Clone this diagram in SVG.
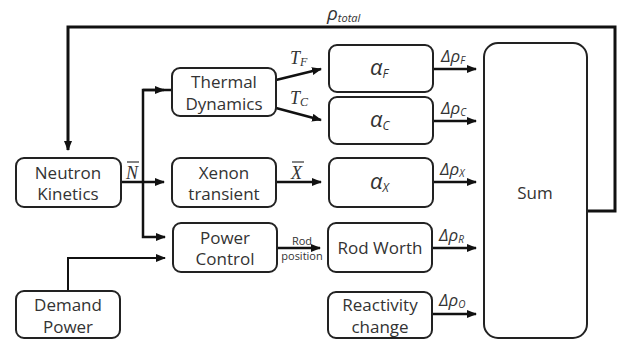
<svg xmlns="http://www.w3.org/2000/svg" width="622" height="340" viewBox="0 0 622 340">
<style>
.box{fill:#fff;stroke:#222;stroke-width:2}
.t{font-family:"Open Sans","Noto Sans",sans-serif;font-size:17px;fill:#333;text-anchor:middle}
.g{font-family:"Open Sans","Noto Sans",sans-serif;font-style:italic;fill:#333}
.s{font-family:"Liberation Serif",serif;font-style:italic;fill:#333}
.c{fill:none;stroke:#111;stroke-width:2.5}
</style>
<defs>
<marker id="ah" markerWidth="10" markerHeight="8" refX="9" refY="4" orient="auto" markerUnits="userSpaceOnUse">
<path d="M0,0 L10,4 L0,8 z" fill="#111"/>
</marker>
</defs>
<g id="connectors">
<path class="c" d="M587,211 H615 V27 H68 V150" marker-end="url(#ah)" style="stroke-width:3"/>
<path class="c" d="M121,182 H164" marker-end="url(#ah)"/>
<path class="c" d="M172,90 H143 V237 H165" marker-end="url(#ah)"/>
<path class="c" d="M143,90 H164" marker-end="url(#ah)"/>
<path class="c" d="M68,291 V258 H165" marker-end="url(#ah)" style="stroke-width:2"/>
<path class="c" d="M276,80 L321,69" marker-end="url(#ah)"/>
<path class="c" d="M276,108 L321,120" marker-end="url(#ah)"/>
<path class="c" d="M276,182 H321" marker-end="url(#ah)"/>
<path class="c" d="M277,248 H320" marker-end="url(#ah)"/>
<path class="c" d="M433,69 H476" marker-end="url(#ah)"/>
<path class="c" d="M433,121 H476" marker-end="url(#ah)"/>
<path class="c" d="M433,182 H476" marker-end="url(#ah)"/>
<path class="c" d="M432,248 H476" marker-end="url(#ah)"/>
<path class="c" d="M432,314 H476" marker-end="url(#ah)"/>
</g>
<g id="labels">
<text class="g" x="327" y="20" font-size="19">ρ<tspan font-size="11" dy="2">total</tspan></text>
<text class="s" x="126" y="179" font-size="18">N</text>
<line x1="127" y1="162" x2="139" y2="162" stroke="#333" stroke-width="1.2"/>
<text class="s" x="291" y="179" font-size="18">X</text>
<line x1="292" y1="162" x2="304" y2="162" stroke="#333" stroke-width="1.2"/>
<text class="s" x="290" y="64" font-size="18">T<tspan font-size="12" dy="2">F</tspan></text>
<text class="s" x="290" y="104" font-size="18">T<tspan font-size="12" dy="2">C</tspan></text>
<text class="t" x="302" y="245" style="font-size:11px">Rod</text>
<text class="t" x="302" y="260" style="font-size:11px">position</text>
<text class="g" x="441" y="62" font-size="17">Δρ<tspan font-size="10" dy="2">F</tspan></text>
<text class="g" x="441" y="114" font-size="17">Δρ<tspan font-size="10" dy="2">C</tspan></text>
<text class="g" x="440" y="175" font-size="17">Δρ<tspan font-size="10" dy="2">X</tspan></text>
<text class="g" x="439" y="241" font-size="17">Δρ<tspan font-size="10" dy="2">R</tspan></text>
<text class="g" x="439" y="306" font-size="17">Δρ<tspan font-size="10" dy="2">O</tspan></text>
</g>
<g id="neutron"><rect class="box" x="16" y="158" width="105" height="49" rx="8"/>
<text class="t" x="68" y="179">Neutron</text><text class="t" x="68" y="200">Kinetics</text></g>
<g id="demand"><rect class="box" x="16" y="291" width="104" height="47" rx="8"/>
<text class="t" x="68" y="311">Demand</text><text class="t" x="68" y="333">Power</text></g>
<g id="thermal"><rect class="box" x="172" y="68" width="104" height="48" rx="8"/>
<text class="t" x="224" y="88">Thermal</text><text class="t" x="224" y="110">Dynamics</text></g>
<g id="xenon"><rect class="box" x="172" y="158" width="104" height="49" rx="8"/>
<text class="t" x="224" y="179">Xenon</text><text class="t" x="224" y="200">transient</text></g>
<g id="power"><rect class="box" x="173" y="223" width="104" height="49" rx="8"/>
<text class="t" x="225" y="244">Power</text><text class="t" x="225" y="265">Control</text></g>
<g id="alphaF"><rect class="box" x="329" y="45" width="104" height="47" rx="8"/>
<text class="g" x="370" y="75" font-size="22">α<tspan font-size="12" dy="3">F</tspan></text></g>
<g id="alphaC"><rect class="box" x="329" y="97" width="104" height="47" rx="8"/>
<text class="g" x="370" y="127" font-size="22">α<tspan font-size="12" dy="3">C</tspan></text></g>
<g id="alphaX"><rect class="box" x="329" y="158" width="104" height="49" rx="8"/>
<text class="g" x="370" y="189" font-size="22">α<tspan font-size="12" dy="3">X</tspan></text></g>
<g id="rodworth"><rect class="box" x="328" y="223" width="104" height="49" rx="8"/>
<text class="t" x="380" y="254">Rod Worth</text></g>
<g id="reactivity"><rect class="box" x="328" y="292" width="104" height="46" rx="8"/>
<text class="t" x="380" y="311">Reactivity</text><text class="t" x="380" y="333">change</text></g>
<g id="sum"><rect class="box" x="484" y="43" width="103" height="295" rx="14"/>
<text class="t" x="535" y="199">Sum</text></g>
</svg>
